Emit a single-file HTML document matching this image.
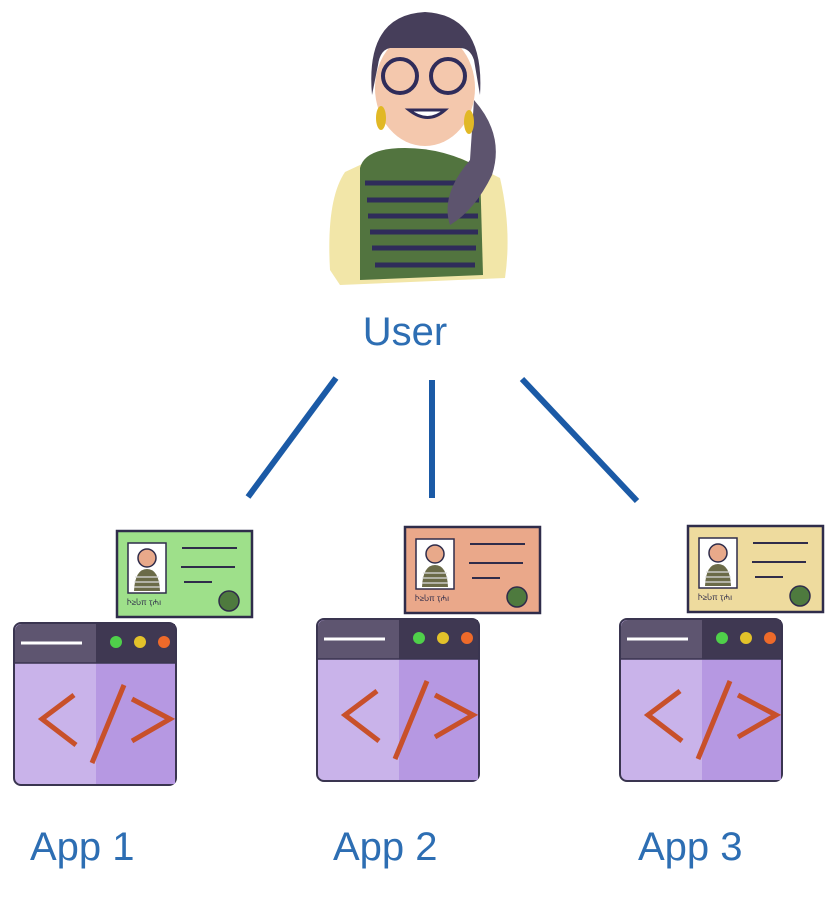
<!DOCTYPE html>
<html><head><meta charset="utf-8"><style>
html,body{margin:0;padding:0;background:#fff;}
svg{display:block}
text{font-family:"Liberation Sans",sans-serif;fill:#2d6eb3}
</style></head><body>
<svg width="837" height="898" viewBox="0 0 837 898" xmlns="http://www.w3.org/2000/svg">
<defs>
<g id="win">
  <rect x="0" y="0" width="162" height="162" rx="7" fill="#c9b3ea" stroke="#3a3550" stroke-width="2"/>
  <rect x="82" y="40" width="79" height="121" fill="#b698e2"/>
  <path d="M1 40 V8 a7 7 0 0 1 7 -7 H154 a7 7 0 0 1 7 7 V40 Z" fill="#5e5570"/>
  <rect x="82" y="1" width="79" height="39" fill="#3f3852"/>
  <line x1="7" y1="20" x2="68" y2="20" stroke="#fff" stroke-width="3"/>
  <circle cx="102" cy="19" r="6" fill="#4fd04a"/>
  <circle cx="126" cy="19" r="6" fill="#e3c22a"/>
  <circle cx="150" cy="19" r="6" fill="#ee6a2a"/>
  <line x1="0" y1="40" x2="162" y2="40" stroke="#3a3550" stroke-width="1.5"/>
  <path d="M60 72 L28 96 L62 122" fill="none" stroke="#c8502a" stroke-width="5"/>
  <path d="M110 62 L78 140" fill="none" stroke="#c8502a" stroke-width="5"/>
  <path d="M126 76 L164 96 L126 118" fill="none" stroke="#c8502a" stroke-width="5" transform="translate(-8,0)"/>
</g>
<g id="card">
  <rect x="0" y="0" width="135" height="86" fill="currentColor" stroke="#2f2c4a" stroke-width="2.5"/>
  <rect x="11" y="12" width="38" height="50" fill="#fff" stroke="#2f2c4a" stroke-width="1.5"/>
  <circle cx="30" cy="27" r="9" fill="#e8a98a" stroke="#2f2c4a" stroke-width="1.5"/>
  <path d="M17 60 Q18 38 30 38 Q42 38 43 60 Z" fill="#6b6b48"/>
  <path d="M18 46h24M17 51h26M17 56h26" stroke="#ddd" stroke-width="1.2"/>
  <text x="10" y="74" font-size="8" style="fill:#2f2c4a">Ⴡ≥Ⴑπ  ҭ₼ı</text>
  <path d="M65 17 H120 M64 36 H118 M67 51 H95" stroke="#2f2c4a" stroke-width="2"/>
  <circle cx="112" cy="70" r="10" fill="#4e7a3e" stroke="#2f2c4a" stroke-width="1.5"/>
</g>
</defs>

<!-- user -->
<g>
  <path d="M330 270 Q326 200 345 172 L375 158 L460 158 L500 178 Q512 230 505 278 L340 285 Z" fill="#f2e6a8"/>
  <path d="M360 168 Q365 148 405 148 Q445 148 480 168 L483 275 L360 280 Z" fill="#52743f"/>
  <g stroke="#2f2c5a" stroke-width="5">
    <path d="M365 183h115M367 200h112M368 216h110M370 232h108M372 248h104M375 265h100"/>
  </g>
  <ellipse cx="425" cy="88" rx="50" ry="58" fill="#f4c8ad"/>
  <path d="M372 95 Q365 15 425 12 Q485 15 480 95 L474 60 Q470 48 460 48 L390 48 Q380 50 378 65 Z" fill="#463e5a"/>
  <path d="M474 100 Q505 135 492 175 Q475 210 450 225 Q440 195 470 160 Z" fill="#5d546e"/>
  <circle cx="400" cy="76" r="17" fill="none" stroke="#2f2c5a" stroke-width="4"/>
  <circle cx="448" cy="76" r="17" fill="none" stroke="#2f2c5a" stroke-width="4"/>
  <path d="M409 110 Q428 125 445 110 Z" fill="#fff" stroke="#2f2c5a" stroke-width="3"/>
  <ellipse cx="381" cy="118" rx="5" ry="12" fill="#e1b825"/>
  <ellipse cx="469" cy="122" rx="5" ry="12" fill="#e1b825"/>
</g>
<text x="405" y="345" font-size="40" text-anchor="middle">User</text>

<g stroke="#1b5aa6" stroke-width="6" stroke-linecap="butt">
  <line x1="336" y1="378" x2="248" y2="497"/>
  <line x1="432" y1="380" x2="432" y2="498"/>
  <line x1="522" y1="379" x2="637" y2="501"/>
</g>

<use href="#card" x="117" y="531" style="color:#9ee08a"/>
<use href="#card" x="405" y="527" style="color:#eaa88a"/>
<use href="#card" x="688" y="526" style="color:#eedb9e"/>

<use href="#win" x="14" y="623"/>
<use href="#win" x="317" y="619"/>
<use href="#win" x="620" y="619"/>

<text x="30" y="860" font-size="40">App 1</text>
<text x="333" y="860" font-size="40">App 2</text>
<text x="638" y="860" font-size="40">App 3</text>
</svg>
</body></html>
